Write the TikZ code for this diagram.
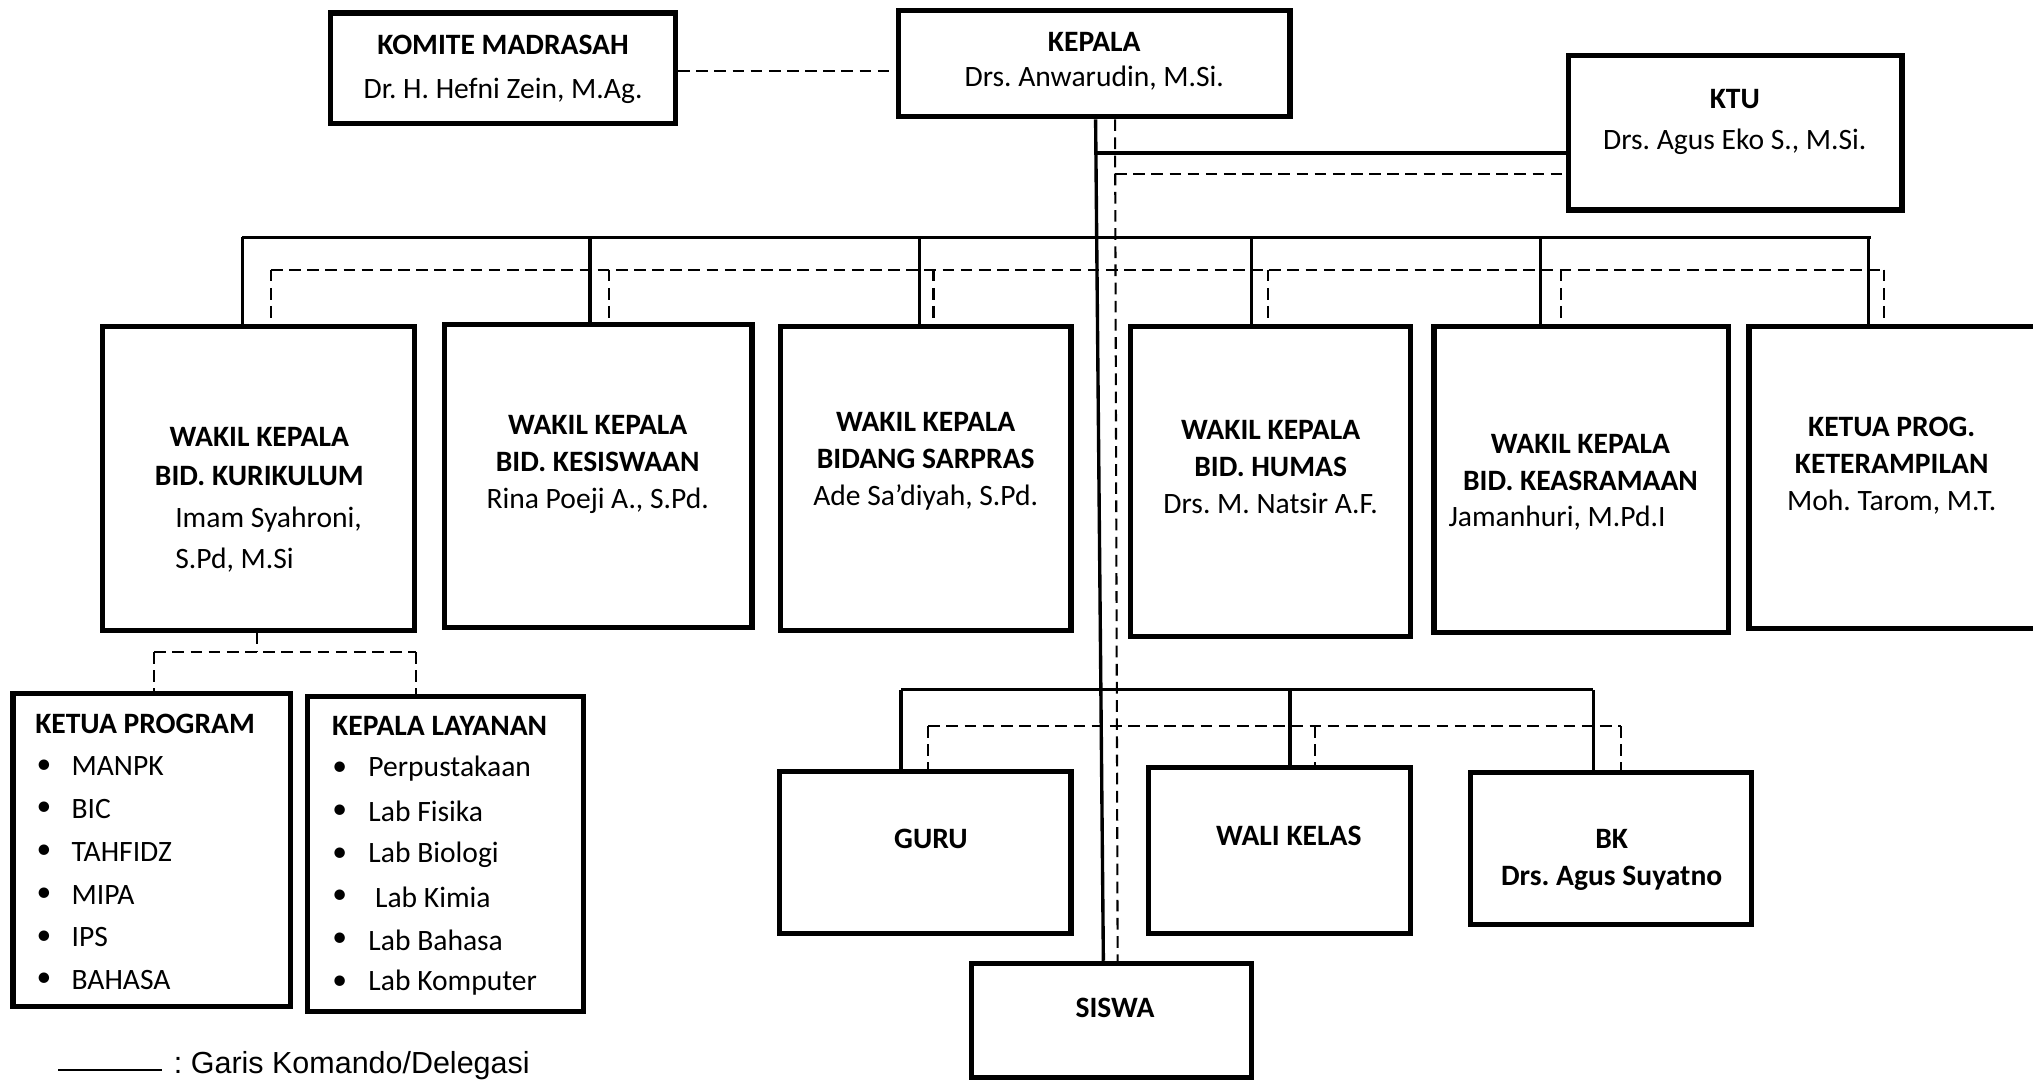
\documentclass[tikz,border=0pt]{standalone}
\usepackage{fontspec}
\setmainfont{Carlito}
\newfontfamily\legendfont{Liberation Sans}
\frenchspacing
\begin{document}
\begin{tikzpicture}[x=1pt,y=-1pt,
  box/.style={draw,line width=4pt,inner sep=0pt},
  cmd/.style={line width=2.6pt},
  dsh/.style={line width=1.6pt,dash pattern=on 9pt off 5pt},
  txt/.style={font=\fontsize{22.8}{28.5}\selectfont,align=center,inner sep=0pt},
  btxt/.style={txt,font=\fontsize{22.8}{28.5}\selectfont\bfseries},
  item/.style={txt,anchor=west}
]
\clip (0,0) rectangle (1568,834);
% boxes
\node[box,minimum width=266pt,minimum height=85pt] (komite) at (388,52.5) {};
\node[box,minimum width=302pt,minimum height=82pt] (kepala) at (844,49) {};
\node[box,minimum width=257pt,minimum height=119pt] (ktu) at (1338.5,102.5) {};
\node[box,minimum width=241pt,minimum height=234pt] (w1) at (199.5,369) {};
\node[box,minimum width=237pt,minimum height=234pt] (w2) at (461.5,367) {};
\node[box,minimum width=224pt,minimum height=234pt] (w3) at (714,369) {};
\node[box,minimum width=216pt,minimum height=239pt] (w4) at (980,371.5) {};
\node[box,minimum width=227pt,minimum height=236pt] (w5) at (1219.5,370) {};
\node[box,minimum width=230pt,minimum height=233pt] (w6) at (1464,368.5) {};
\node[box,minimum width=214pt,minimum height=241pt] (kp) at (117,655.5) {};
\node[box,minimum width=213pt,minimum height=243pt] (kl) at (343.5,658.5) {};
\node[box,minimum width=225pt,minimum height=125pt] (guru) at (713.5,657.5) {};
\node[box,minimum width=202pt,minimum height=128pt] (wali) at (987,656) {};
\node[box,minimum width=217pt,minimum height=117pt] (bk) at (1242.5,654.5) {};
\node[box,minimum width=216pt,minimum height=88pt] (siswa) at (857,787) {};

% texts
\node[btxt] (t-komite1) at (388,35) {KOMITE MADRASAH};
\node[txt] (t-komite2) at (388,70) {Dr. H. Hefni Zein, M.Ag.};
\node[btxt] (t-kepala1) at (844,32) {KEPALA};
\node[txt] (t-kepala2) at (844,60) {Drs. Anwarudin, M.Si.};
\node[btxt] (t-ktu1) at (1338,76) {KTU};
\node[txt] (t-ktu2) at (1338,109) {Drs. Agus Eko S., M.Si.};

\node[btxt] (t-w1a) at (200,337) {WAKIL KEPALA};
\node[btxt] (t-w1b) at (200,367) {BID. KURIKULUM};
\node[item] (t-w1c) at (135,401) {Imam Syahroni,};
\node[item] (t-w1d) at (135,432) {S.Pd, M.Si};

\node[btxt] (t-w2) at (461,358) {WAKIL KEPALA\\BID. KESISWAAN\\\normalfont Rina Poeji A., S.Pd.};
\node[btxt] (t-w3) at (714,356) {WAKIL KEPALA\\BIDANG SARPRAS\\\normalfont Ade Sa’diyah, S.Pd.};
\node[btxt] (t-w4) at (980,360) {WAKIL KEPALA\\BID. HUMAS\\\normalfont Drs. M. Natsir A.F.};
\node[btxt] (t-w5) at (1219,357) {WAKIL KEPALA\\BID. KEASRAMAAN};
\node[item] (t-w5c) at (1117,400) {Jamanhuri, M.Pd.I};
\node[btxt] (t-w6) at (1459,359) {KETUA PROG.\\KETERAMPILAN\\\normalfont Moh. Tarom, M.T.};

\node[btxt,anchor=west] (t-kp) at (27,558) {KETUA PROGRAM};
\foreach \t [count=\i] in {MANPK,BIC,TAHFIDZ,MIPA,IPS,BAHASA}{
  \node[txt] (kpb\i) at (34,558+33*\i) {•};
  \node[item] (kpi\i) at (55,558+33*\i) {\t};
}
\node[btxt,anchor=west] (t-kl) at (256,560) {KEPALA LAYANAN};
\foreach \t [count=\i] in {Perpustakaan,Lab Fisika,Lab Biologi,{\ Lab Kimia},Lab Bahasa,Lab Komputer}{
  \node[txt] (klb\i) at (262,560+33*\i) {•};
  \node[item] (kli\i) at (284,560+33*\i) {\t};
}

\node[btxt] (t-guru) at (718,647) {GURU};
\node[btxt] (t-wali) at (994,645) {WALI KELAS};
\node[btxt] (t-bk) at (1243,663) {BK\\Drs. Agus Suyatno};
\node[btxt] (t-siswa) at (860,777) {SISWA};

% connectors: kepala
\draw[dsh] (komite.east |- 0,55) -- (kepala.west |- 0,55);
\draw[cmd] (845,0 |- kepala.south) -- (851,0 |- siswa.north);
\draw[dsh] (860,0 |- kepala.south) -- (862,0 |- siswa.north);
\coordinate (jk1) at (846,118);
\coordinate (jk2) at (860,134);
\draw[cmd] (jk1) -- (ktu.west |- jk1);
\draw[dsh] (jk2) -- (ktu.west |- jk2);

% top buses
\coordinate (busL) at (187,183);
\coordinate (busR) at (1443,183);
\draw[cmd] (busL) -- (busR);
\foreach \n/\x in {w1/187,w2/455,w3/709,w4/965,w5/1188,w6/1441}{
  \draw[cmd] (\x,183) -- (\x,0 |- \n.north);
}
\coordinate (dbusL) at (209,208);
\coordinate (dbusR) at (1453,208);
\draw[dsh] (dbusL) -- (dbusR);
\foreach \n/\x in {w1/209,w2/470,w3/720,w4/978,w5/1204,w6/1453}{
  \draw[dsh] (\x,208) -- (\x,0 |- \n.north);
}

% kurikulum children
\coordinate (kj) at (198,503);
\draw[dsh] (198,0 |- w1.south) -- (kj);
\draw[dsh] (119,503) -- (321,503);
\draw[dsh] (119,503) -- (119,0 |- kp.north);
\draw[dsh] (321,503) -- (321,0 |- kl.north);

% lower buses
\coordinate (lbusL) at (695,532);
\coordinate (lbusR) at (1229,532);
\draw[cmd] (lbusL) -- (lbusR);
\foreach \n/\x in {guru/695,wali/995,bk/1229}{
  \draw[cmd] (\x,532) -- (\x,0 |- \n.north);
}
\coordinate (ldbusL) at (716,560);
\coordinate (ldbusR) at (1250,560);
\draw[dsh] (ldbusL) -- (ldbusR);
\foreach \n/\x in {guru/716,wali/1014,bk/1250}{
  \draw[dsh] (\x,560) -- (\x,0 |- \n.north);
}

% legend
\coordinate (lg1) at (45,825);
\coordinate (lg2) at (125,825);
\draw[line width=1.4pt] (lg1) -- (lg2);
\node[anchor=west,inner sep=0pt,font=\legendfont\fontsize{23.5}{28}\selectfont] (lgt) at (134,822) {: Garis Komando/Delegasi};
\end{tikzpicture}
\end{document}
